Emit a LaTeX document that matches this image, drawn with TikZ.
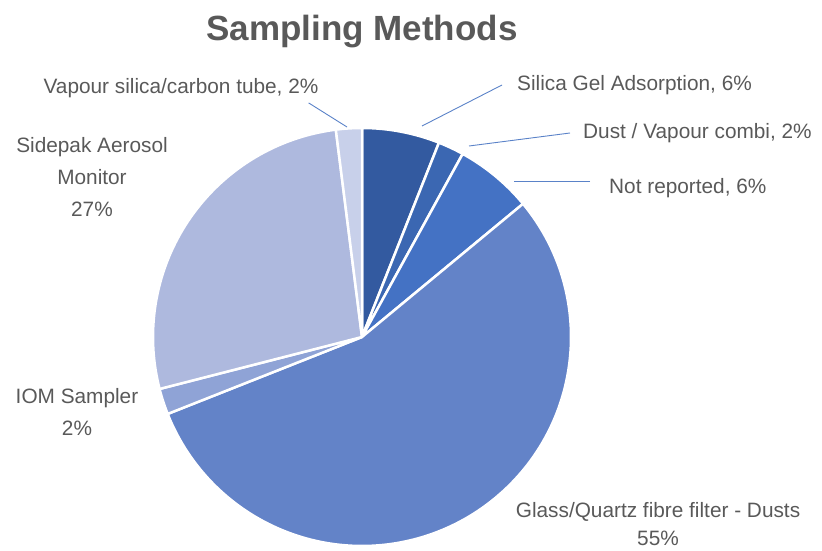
\documentclass[tikz,border=0pt]{standalone}
\usepackage{fontspec}
\setmainfont{Liberation Sans}
\usepackage{xcolor}
\usepackage{tikz}
\usetikzlibrary{calc}
\definecolor{silicagel}{RGB}{51, 90, 160}
\definecolor{dustvap}{RGB}{59, 103, 178}
\definecolor{notrep}{RGB}{68, 114, 196}
\definecolor{glassq}{RGB}{99, 131, 200}
\definecolor{iomsamp}{RGB}{143, 163, 214}
\definecolor{sidepak}{RGB}{174, 185, 222}
\definecolor{vaptube}{RGB}{200, 208, 234}
\definecolor{textgray}{RGB}{89, 89, 89}
\definecolor{leaderblue}{RGB}{90, 130, 200}
\tikzstyle{slice} = [
    draw=white,
    line width=2.5pt,
    line join=round
]
\tikzstyle{label} = [
    text=textgray,
    inner sep=0pt,
    align=center,
    font=\fontsize{20.8}{32}\selectfont
]
\tikzstyle{leader} = [
    color=leaderblue,
    line width=0.9pt
]

\begin{document}
\begin{tikzpicture}[x=1pt, y=1pt]
        \useasboundingbox (0,0) rectangle (822,550);
        \coordinate (ctr) at (362,213);

        % slices, clockwise from the top
        \foreach \a/\b/\c in {90/68.4/silicagel, 68.4/61.2/dustvap, 61.2/39.6/notrep,
                              39.6/-158.4/glassq, -158.4/-165.6/iomsamp,
                              -165.6/-262.8/sidepak, -262.8/-270/vaptube}
            \filldraw[slice, fill=\c] (ctr) -- ++(\a:209) arc[start angle=\a, end angle=\b, radius=209pt] -- cycle;

        \node[text=textgray, font=\fontsize{35}{40}\selectfont\bfseries] (title) at (362,518) {Sampling Methods};

        \node[label] (lblvapour) at (181,462) {Vapour silica/carbon tube, 2\%};
        \node[label, anchor=west] (lblsilica) at (517,465) {Silica Gel Adsorption, 6\%};
        \node[label, anchor=west] (lbldust) at (583,417) {Dust / Vapour combi, 2\%};
        \node[label, anchor=west] (lblnotrep) at (609,362) {Not reported, 6\%};
        \node[label] (lblsidepak) at (92,373) {Sidepak Aerosol\\Monitor\\27\%};
        \node[label] (lbliom) at (77,137.5) {IOM Sampler\\2\%};
        \node[label, font=\fontsize{20.8}{28}\selectfont] (lblglass) at (658,26) {Glass/Quartz fibre filter - Dusts\\55\%};

        \coordinate (pvapour) at (347,423);
        \coordinate (psilica) at (422,424);
        \coordinate (pdust) at (469,404);
        \coordinate (pnotrep) at (514,369);

        \draw[leader] ($(lblvapour.south east)+(-10,-5)$) -- (pvapour);
        \draw[leader] ([xshift=-15pt]lblsilica.west) -- (psilica);
        \draw[leader] ([xshift=-13pt]lbldust.west) -- (pdust);
        \draw[leader] ([xshift=-19pt, yshift=7pt]lblnotrep.west) -- (pnotrep);
    \end{tikzpicture}
\end{document}
